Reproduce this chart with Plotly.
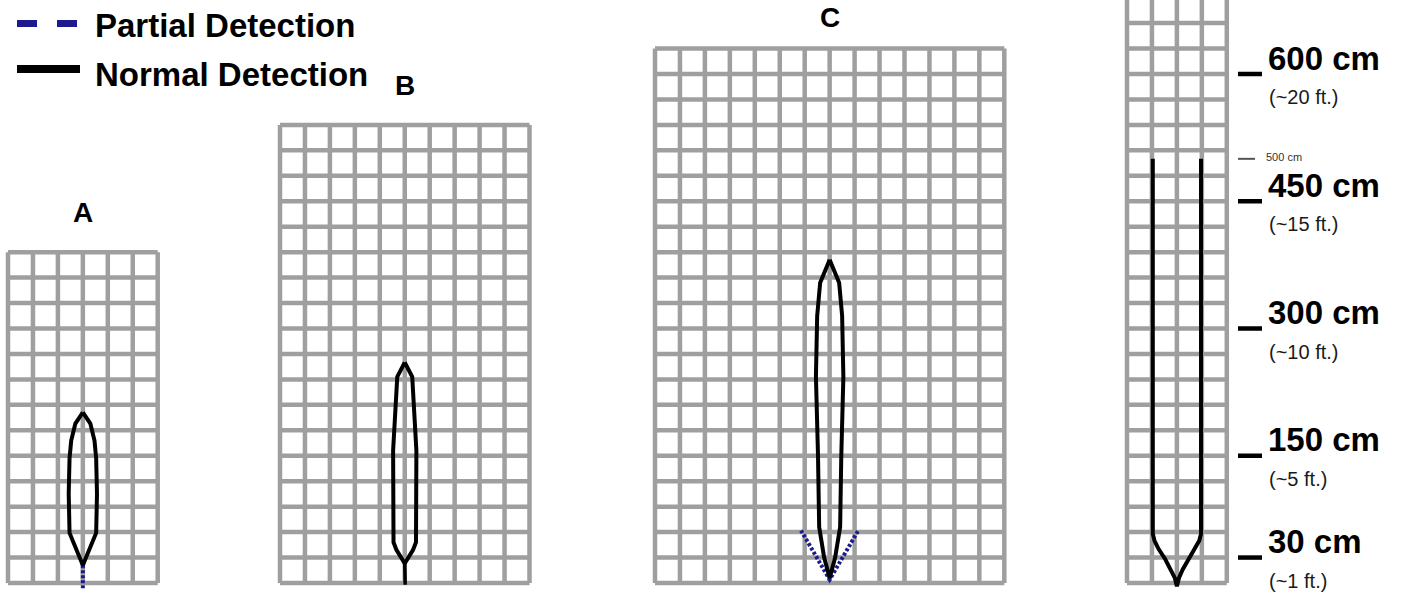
import plotly.graph_objects as go

# ---------------- data ----------------
CM_PER_CELL = 30
panel_labels = ["A", "B", "C", ""]
panel_cols = [6, 10, 14, 4]
panel_rows = [13, 18, 21, 24]
panel_center_col = [3, 5, 7, 2]

# detection outline profiles: height (cm) and half-width (cm)
A_height = [21, 59, 105, 147, 168, 188, 201]
A_halfw = [0, 16, 17, 16, 14, 9, 0]
B_height = [23, 39, 48, 156, 243, 260]
B_halfw = [0, 10, 13.5, 14, 9, 0]
C_height = [6, 30, 66, 150, 243, 315, 354, 381]
C_halfw = [0, 6.6, 12.6, 14, 16.5, 15, 11.4, 0]
D_height = [-4, 6, 16, 28, 40, 50, 58, 500]
D_halfw = [0, 2.5, 7, 14, 22, 27, 29, 29]

# partial detection (blue dotted) segments: (dx cm, height cm)
A_partial_dx = [0, 0]
A_partial_h = [21, -7]
C_partial_dx = [-34.5, 0, 34.5]
C_partial_h = [62, 4, 62]
B_stem_dx = [0, 0.5]
B_stem_h = [23, -2]

legend_labels = ["Partial Detection", "Normal Detection"]

scale_cm = [600, 450, 300, 150, 30]
scale_cm_labels = ["600 cm", "450 cm", "300 cm", "150 cm", "30 cm"]
scale_ft_labels = ["(~20 ft.)", "(~15 ft.)", "(~10 ft.)", "(~5 ft.)", "(~1 ft.)"]
minor_cm = 500
minor_label = "500 cm"

# ---------------- layout constants ----------------
W, H = 1413, 593
PX_X = 24.95 / CM_PER_CELL   # px per cm horizontally
PX_Y = 25.45 / CM_PER_CELL   # px per cm vertically
BOTTOM_PX = 583
panel_x0_px = [8, 280, 655, 1127]
panel_x0 = [p / PX_X for p in panel_x0_px]

GRID_COLOR = "#9f9f9f"
NAVY = "#1b1b8f"
FONT = "Liberation Sans, Arial, sans-serif"

def px_x(p):
    return p / PX_X

def px_y(p):
    return (BOTTOM_PX - p) / PX_Y

fig = go.Figure()

# grids
for x0, cols, rows in zip(panel_x0, panel_cols, panel_rows):
    xs, ys = [], []
    top = rows * CM_PER_CELL
    for i in range(cols + 1):
        xs += [x0 + i * CM_PER_CELL, x0 + i * CM_PER_CELL, None]
        ys += [0, top, None]
    for j in range(rows + 1):
        xs += [x0, x0 + cols * CM_PER_CELL, None]
        ys += [j * CM_PER_CELL, j * CM_PER_CELL, None]
    fig.add_trace(go.Scatter(x=xs, y=ys, mode="lines",
                             line=dict(color=GRID_COLOR, width=4.5),
                             hoverinfo="skip", showlegend=False))

heights = [A_height, B_height, C_height, D_height]
halfws = [A_halfw, B_halfw, C_halfw, D_halfw]

def center_of(k):
    return panel_x0[k] + panel_center_col[k] * CM_PER_CELL

# partial detection first (under the outlines)
for k, dx, hh in [(0, A_partial_dx, A_partial_h), (2, C_partial_dx, C_partial_h)]:
    c = center_of(k)
    fig.add_trace(go.Scatter(x=[c + d for d in dx], y=hh, mode="lines",
                             line=dict(color=NAVY, width=4, dash="3px,2px"),
                             hoverinfo="skip", showlegend=False))

# normal detection outlines
for k in range(4):
    c = center_of(k)
    h = heights[k]
    w = halfws[k]
    xs = [c - v for v in reversed(w)] + [c + v for v in w[1:]]
    ys = list(reversed(h)) + h[1:]
    fig.add_trace(go.Scatter(x=xs, y=ys, mode="lines",
                             line=dict(color="black", width=4),
                             hoverinfo="skip", showlegend=False))

# B stem
cb = center_of(1)
fig.add_trace(go.Scatter(x=[cb + d for d in B_stem_dx], y=B_stem_h, mode="lines",
                         line=dict(color="black", width=3.5),
                         hoverinfo="skip", showlegend=False))

annotations = []
# panel labels
for k, lab in enumerate(panel_labels):
    if not lab:
        continue
    ly = panel_rows[k] * CM_PER_CELL + 46.5
    anchor = "middle"
    if ly > px_y(18):          # keep the label inside the page
        ly, anchor = px_y(0), "top"
    annotations.append(dict(x=panel_x0[k] + panel_cols[k] * CM_PER_CELL / 2,
                            y=ly,
                            xref="x", yref="y", text=f"<b>{lab}</b>", showarrow=False,
                            font=dict(family=FONT, size=28, color="black"),
                            xanchor="center", yanchor=anchor))

# legend (manual)
fig.add_trace(go.Scatter(x=[px_x(17), px_x(78)], y=[px_y(23.5)] * 2, mode="lines",
                         line=dict(color=NAVY, width=7, dash="20px,20px"),
                         hoverinfo="skip", showlegend=False))
fig.add_trace(go.Scatter(x=[px_x(17), px_x(80)], y=[px_y(69)] * 2, mode="lines",
                         line=dict(color="black", width=8),
                         hoverinfo="skip", showlegend=False))
for lab, ypx in zip(legend_labels, [25, 74]):
    annotations.append(dict(x=px_x(93), y=px_y(ypx), xref="x", yref="y",
                            text=f"<b>{lab}</b>", showarrow=False,
                            font=dict(family=FONT, size=33, color="black"),
                            xanchor="left", yanchor="middle"))

# distance scale
tx0, tx1 = px_x(1238), px_x(1262)
sx, sy = [], []
for v in scale_cm:
    sx += [tx0, tx1, None]
    sy += [v, v, None]
fig.add_trace(go.Scatter(x=sx, y=sy, mode="lines", line=dict(color="black", width=4.5),
                         hoverinfo="skip", showlegend=False))
fig.add_trace(go.Scatter(x=[tx0, px_x(1255)], y=[minor_cm, minor_cm], mode="lines",
                         line=dict(color="#555555", width=2),
                         hoverinfo="skip", showlegend=False))
for v, lc, lf in zip(scale_cm, scale_cm_labels, scale_ft_labels):
    annotations.append(dict(x=px_x(1266), y=v + 16 / PX_Y, xref="x", yref="y",
                            text=f"<b>{lc}</b>", showarrow=False,
                            font=dict(family=FONT, size=33, color="black"),
                            xanchor="left", yanchor="middle"))
    annotations.append(dict(x=px_x(1267), y=v - 23 / PX_Y, xref="x", yref="y",
                            text=lf, showarrow=False,
                            font=dict(family=FONT, size=20, color="#1a1a1a"),
                            xanchor="left", yanchor="middle"))
annotations.append(dict(x=px_x(1264), y=minor_cm + 1.5 / PX_Y, xref="x", yref="y",
                        text=minor_label, showarrow=False,
                        font=dict(family=FONT, size=11, color="#333333"),
                        xanchor="left", yanchor="middle"))

fig.update_layout(
    width=W, height=H,
    margin=dict(l=0, r=0, t=0, b=0),
    paper_bgcolor="white", plot_bgcolor="white",
    xaxis=dict(range=[0, W / PX_X], visible=False, fixedrange=True),
    yaxis=dict(range=[-(H - BOTTOM_PX) / PX_Y, BOTTOM_PX / PX_Y], visible=False, fixedrange=True),
    annotations=annotations,
    showlegend=False,
)

fig.write_html("out.html", config={"displayModeBar": False},
               post_script="document.body.style.margin='0';document.body.style.overflow='hidden';")
